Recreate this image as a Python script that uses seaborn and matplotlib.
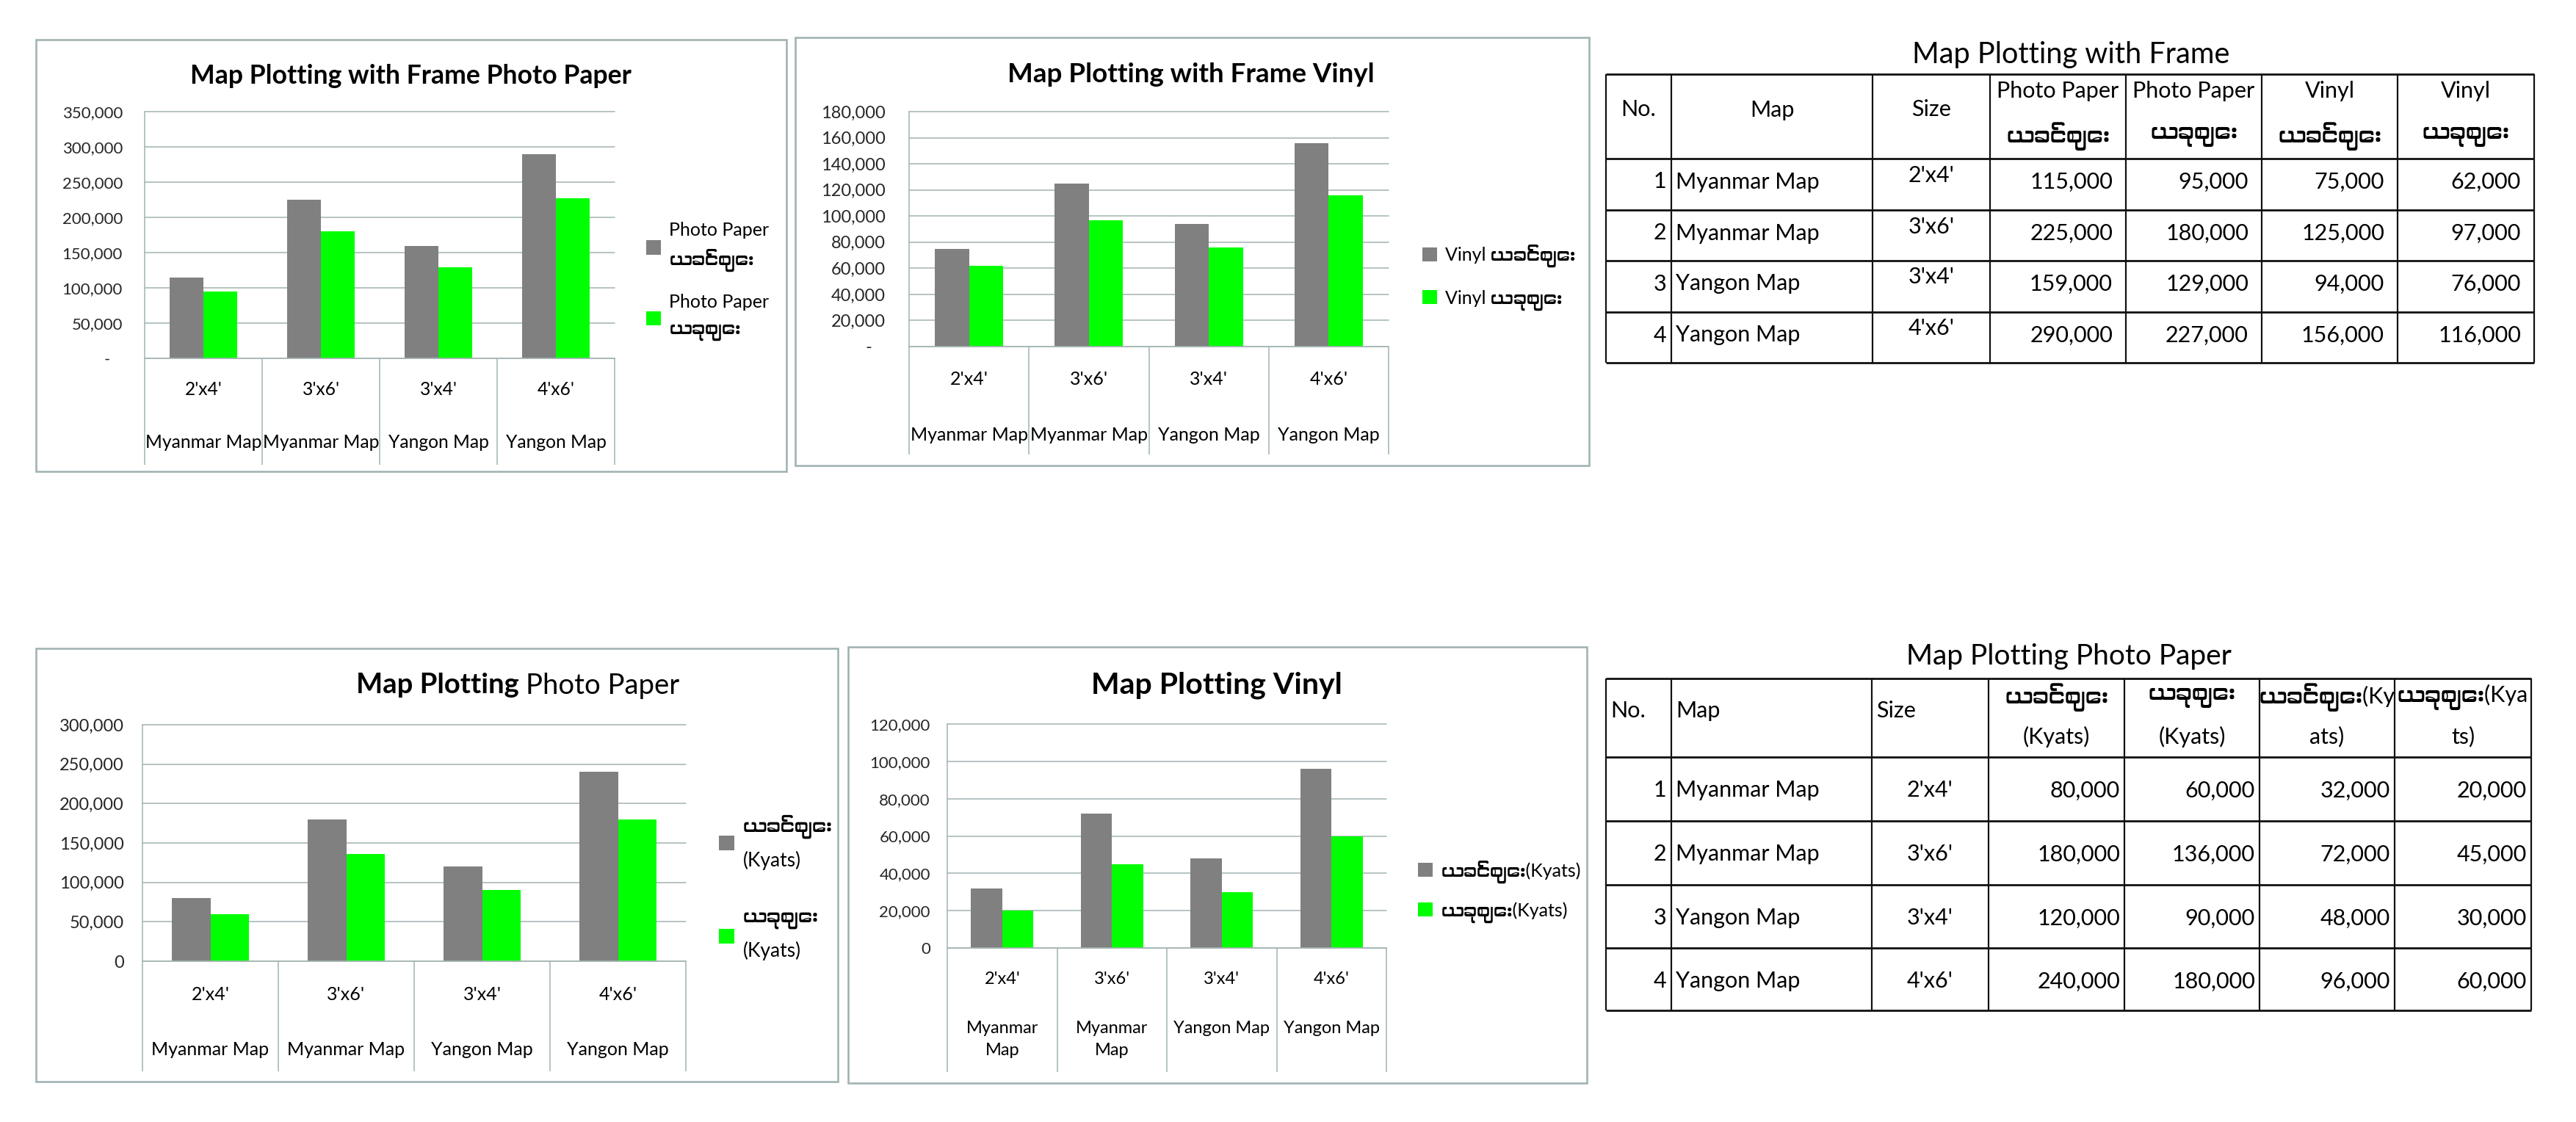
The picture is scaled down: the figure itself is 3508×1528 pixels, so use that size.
import matplotlib
matplotlib.use("Agg")
import matplotlib.pyplot as plt
import seaborn as sns
import pandas as pd
import numpy as np
from matplotlib import font_manager as fm
from matplotlib.transforms import blended_transform_factory
from matplotlib.patches import Rectangle

# ---------------- data ----------------
nos = [1, 2, 3, 4]
maps = ["Myanmar Map", "Myanmar Map", "Yangon Map", "Yangon Map"]
maps_wrapped = ["Myanmar\nMap", "Myanmar\nMap", "Yangon Map", "Yangon Map"]
sizes = ["2'x4'", "3'x6'", "3'x4'", "4'x6'"]

OLD = "ယခင်ဈေး"
NEW = "ယခုဈေး"

frame_photo_old = [115000, 225000, 159000, 290000]
frame_photo_new = [95000, 180000, 129000, 227000]
frame_vinyl_old = [75000, 125000, 94000, 156000]
frame_vinyl_new = [62000, 97000, 76000, 116000]

photo_old = [80000, 180000, 120000, 240000]
photo_new = [60000, 136000, 90000, 180000]
vinyl_old = [32000, 72000, 48000, 96000]
vinyl_new = [20000, 45000, 30000, 60000]

series_c1 = ["Photo Paper\n" + OLD, "Photo Paper\n" + NEW]
series_c2 = ["Vinyl " + OLD, "Vinyl " + NEW]
series_c3 = [OLD + "\n(Kyats)", NEW + "\n(Kyats)"]
series_c4 = [OLD + "(Kyats)", NEW + "(Kyats)"]

table1_title = "Map Plotting with Frame"
table1_header = ["No.", "Map", "Size", ("Photo Paper", OLD), ("Photo Paper", NEW),
                 ("Vinyl", OLD), ("Vinyl", NEW)]
table2_title = "Map Plotting Photo Paper"
table2_header = ["No.", "Map", "Size", (OLD, "(Kyats)"), (NEW, "(Kyats)"),
                 (OLD + "(Ky", "ats)"), (NEW + "(Kya", "ts)")]

# ---------------- style ----------------
sns.set_style("white")
names = {f.name for f in fm.fontManager.ttflist}
myanmar_fonts = sorted(n for n in names if ("Myanmar" in n or "Padauk" in n or "Pyidaungsu" in n))
base = "Lato" if "Lato" in names else "DejaVu Sans"
FAM = [base] + myanmar_fonts[:1] + ["DejaVu Sans"]
plt.rcParams["font.family"] = FAM
plt.rcParams["text.color"] = "black"

GRAY = "#808080"
GREEN = "#00FF00"
GRID = "#a6b6b6"
FRAME = "#a0b2b2"
PT = 0.72  # px -> pt at dpi 100

W, H, DPI = 3508, 1528, 100
fig = plt.figure(figsize=(W / DPI, H / DPI), dpi=DPI, facecolor="white")


def fx(x):
    return x / W


def fy(y):
    return 1 - y / H


def add_ax(x0, y0, x1, y1):
    return fig.add_axes([fx(x0), fy(y1), fx(x1) - fx(x0), fy(y0) - fy(y1)])


def frame_rect(x0, y0, x1, y1):
    fig.add_artist(Rectangle((fx(x0), fy(y1)), fx(x1) - fx(x0), fy(y0) - fy(y1),
                             transform=fig.transFigure, fill=False,
                             edgecolor=FRAME, linewidth=2.6 * PT))


keys = [f"{m} {s}" for m, s in zip(maps, sizes)]


def bar_chart(frame, axbox, cat_bottom, old, new, series, ymax, ystep, zero_label,
              tick_fs, tick_pad, size_y, map_y, map_labels, cat_fs, map_va,
              legend_xy, legend_fs, legend_ls, legend_lsp, title, title_xy, title_fs):
    frame_rect(*frame)
    x0, top, x1, zero = axbox
    ax = add_ax(x0, top, x1, zero)
    df = pd.DataFrame({
        "key": keys * 2,
        "series": [series[0]] * len(keys) + [series[1]] * len(keys),
        "value": list(old) + list(new),
    })
    sns.barplot(data=df, x="key", y="value", hue="series", order=keys, hue_order=series,
                palette=[GRAY, GREEN], saturation=1, width=0.57, gap=0,
                errorbar=None, linewidth=0, ax=ax)
    handles, labels = ax.get_legend_handles_labels()
    if ax.get_legend() is not None:
        ax.get_legend().remove()
    ax.set_xlim(-0.5, len(keys) - 0.5)
    ax.set_ylim(0, ymax)
    ticks = np.arange(0, ymax + ystep, ystep)
    ax.set_yticks(ticks)
    ax.set_yticklabels([zero_label if t == 0 else f"{int(t):,}" for t in ticks])
    ax.set_xticks([])
    ax.set_xlabel("")
    ax.set_ylabel("")
    ax.tick_params(axis="y", length=0, pad=tick_pad * PT, labelsize=tick_fs)
    for s in ["top", "right"]:
        ax.spines[s].set_visible(False)
    for s in ["left", "bottom"]:
        ax.spines[s].set_color(GRID)
        ax.spines[s].set_linewidth(1.6 * PT)
    ax.yaxis.grid(True, color=GRID, linewidth=1.6 * PT)
    ax.xaxis.grid(False)
    ax.set_axisbelow(True)
    for gl in ax.get_ygridlines():
        gl.set_clip_on(False)

    span = zero - top

    def ya(ypx):
        return -(ypx - zero) / span

    trans = blended_transform_factory(ax.transData, ax.transAxes)
    ax.vlines(np.arange(len(keys) + 1) - 0.5, ya(cat_bottom), 0, transform=trans,
              color=GRID, linewidth=1.6 * PT, clip_on=False)
    for i in range(len(keys)):
        ax.text(i, ya(size_y), sizes[i], transform=trans, ha="center",
                va="center_baseline", fontsize=cat_fs)
        if map_va == "top":
            ax.text(i, ya(map_y), map_labels[i], transform=trans, ha="center",
                    va="top", fontsize=cat_fs, linespacing=1.55)
        else:
            ax.text(i, ya(map_y), map_labels[i], transform=trans, ha="center",
                    va="center_baseline", fontsize=cat_fs)

    leg = fig.legend(handles, labels, loc="center left",
                     bbox_to_anchor=(fx(legend_xy[0]), fy(legend_xy[1])),
                     frameon=False, fontsize=legend_fs, handlelength=0.8,
                     handleheight=0.8, handletextpad=0.45, labelspacing=legend_lsp,
                     borderpad=0, borderaxespad=0)
    for t in leg.get_texts():
        t.set_linespacing(legend_ls)

    if isinstance(title, tuple):
        bold_part, reg_part, split_x, gap = title
        fig.text(fx(split_x), fy(title_xy[1]), bold_part, ha="right", va="center_baseline",
                 fontsize=title_fs, fontweight="bold")
        fig.text(fx(split_x + gap), fy(title_xy[1]), reg_part, ha="left", va="center_baseline",
                 fontsize=title_fs)
    else:
        fig.text(fx(title_xy[0]), fy(title_xy[1]), title, ha="center", va="center_baseline",
                 fontsize=title_fs, fontweight="bold")
    return ax


# chart 1: Map Plotting with Frame Photo Paper
bar_chart(frame=(49, 54, 1071, 642), axbox=(197, 152, 837, 488), cat_bottom=633,
          old=frame_photo_old, new=frame_photo_new, series=series_c1,
          ymax=350000, ystep=50000, zero_label="-   ", tick_fs=16, tick_pad=30,
          size_y=528, map_y=600, map_labels=maps, cat_fs=17.7, map_va="center",
          legend_xy=(880, 383), legend_fs=18, legend_ls=1.65, legend_lsp=1.2,
          title="Map Plotting with Frame Photo Paper", title_xy=(559, 100), title_fs=25.7)

# chart 2: Map Plotting with Frame Vinyl
bar_chart(frame=(1083, 51, 2164, 634), axbox=(1238, 152, 1891, 472), cat_bottom=619,
          old=frame_vinyl_old, new=frame_vinyl_new, series=series_c2,
          ymax=180000, ystep=20000, zero_label="-   ", tick_fs=17, tick_pad=32,
          size_y=514, map_y=590, map_labels=maps, cat_fs=18, map_va="center",
          legend_xy=(1937, 378), legend_fs=18, legend_ls=1.2, legend_lsp=1.2,
          title="Map Plotting with Frame Vinyl", title_xy=(1622, 99), title_fs=26.5)

# chart 3: Map Plotting Photo Paper
bar_chart(frame=(49, 883, 1141, 1473), axbox=(194, 987, 934, 1309), cat_bottom=1459,
          old=photo_old, new=photo_new, series=series_c3,
          ymax=300000, ystep=50000, zero_label="0", tick_fs=17, tick_pad=25,
          size_y=1352, map_y=1428, map_labels=maps, cat_fs=18, map_va="center",
          legend_xy=(979, 1209), legend_fs=19, legend_ls=1.8, legend_lsp=2.1,
          title=("Map Plotting", "Photo Paper", 707, 9), title_xy=(694, 930), title_fs=27.5)

# chart 4: Map Plotting Vinyl
bar_chart(frame=(1155, 881, 2161, 1475), axbox=(1290, 986, 1888, 1291), cat_bottom=1460,
          old=vinyl_old, new=vinyl_new, series=series_c4,
          ymax=120000, ystep=20000, zero_label="0", tick_fs=16, tick_pad=23,
          size_y=1331, map_y=1390, map_labels=maps_wrapped, cat_fs=17, map_va="top",
          legend_xy=(1931, 1214), legend_fs=18, legend_ls=1.2, legend_lsp=1.0,
          title="Map Plotting Vinyl", title_xy=(1657, 930), title_fs=29.5)


# ---------------- tables ----------------
def draw_table(cols, rows, header, hdr_align, values, title, title_xy, hdr_lines_y,
               hdr_single_y, body_dy, size_dy, num_pad, title_fs):
    pad = 15
    X0, X1 = cols[0] - pad, cols[-1] + pad
    Y0, Y1 = title_xy[1] - 35, rows[-1] + pad
    ax = add_ax(X0, Y0, X1, Y1)
    ax.set_xlim(X0, X1)
    ax.set_ylim(Y1, Y0)
    ax.axis("off")
    ax.hlines(rows, cols[0], cols[-1], color="#111111", linewidth=2.8 * PT)
    ax.vlines(cols, rows[0], rows[-1], color="#111111", linewidth=2.2 * PT)
    ax.text(title_xy[0], title_xy[1], title, ha="center", va="center_baseline",
            fontsize=title_fs)
    FS = 22
    for j, h in enumerate(header):
        l, r = cols[j], cols[j + 1]
        if isinstance(h, tuple):
            for line, yy in zip(h, hdr_lines_y):
                ax.text((l + r) / 2, yy, line, ha="center", va="center_baseline", fontsize=FS)
        else:
            al = hdr_align[j]
            x = (l + r) / 2 if al == "center" else l + 6
            ax.text(x, hdr_single_y, h, ha=al, va="center_baseline", fontsize=FS)
    for i in range(len(nos)):
        top = rows[i + 1]
        yb = top + body_dy
        ax.text(cols[1] - 7, yb, str(nos[i]), ha="right", va="center_baseline", fontsize=FS)
        ax.text(cols[1] + 6, yb, maps[i], ha="left", va="center_baseline", fontsize=FS)
        ax.text((cols[2] + cols[3]) / 2, top + size_dy, sizes[i], ha="center",
                va="center_baseline", fontsize=FS)
        for k, series in enumerate(values):
            ax.text(cols[4 + k] - num_pad, yb, f"{series[i]:,}", ha="right",
                    va="center_baseline", fontsize=FS)


draw_table(cols=[2187, 2276, 2550, 2710, 2895, 3080, 3265, 3451],
           rows=[101, 216, 286, 355, 425, 494],
           header=table1_header, hdr_align=["center", "center", "center"],
           values=[frame_photo_old, frame_photo_new, frame_vinyl_old, frame_vinyl_new],
           title=table1_title, title_xy=(2820, 71), hdr_lines_y=(121, 180),
           hdr_single_y=147, body_dy=29, size_dy=20, num_pad=18, title_fs=28.5)

draw_table(cols=[2187, 2276, 2549, 2708, 2893, 3077, 3261, 3447],
           rows=[924, 1031, 1118, 1205, 1291, 1376],
           header=table2_header, hdr_align=["left", "left", "left"],
           values=[photo_old, photo_new, vinyl_old, vinyl_new],
           title=table2_title, title_xy=(2817, 891), hdr_lines_y=(944, 1001),
           hdr_single_y=966, body_dy=43, size_dy=43, num_pad=6, title_fs=28)

fig.savefig("out.png", dpi=DPI, facecolor="white")
